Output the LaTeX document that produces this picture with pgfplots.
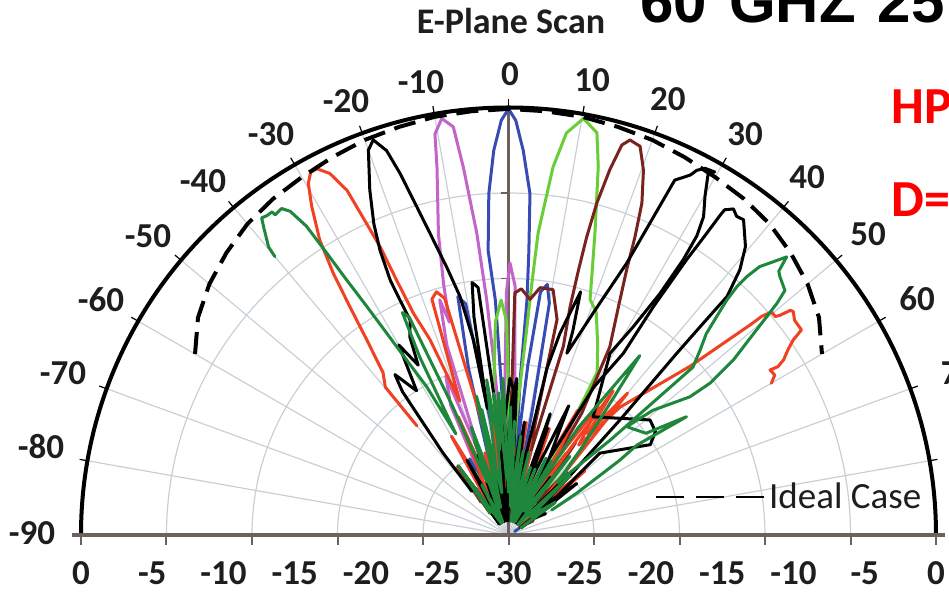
\documentclass[border=0pt]{standalone}
\usepackage{pgfplots}
\usepackage{pgfplotstable}
\pgfplotsset{compat=1.18}
\usepackage{fontspec}
\setmainfont{Carlito}
\newfontfamily\arialfont{Liberation Sans}
\definecolor{cgrid}{RGB}{200,208,214}
\definecolor{caxis}{RGB}{110,96,92}
\definecolor{cgreen}{RGB}{30,135,60}
\definecolor{cred}{RGB}{240,65,35}
\definecolor{cmag}{RGB}{195,100,200}
\definecolor{cblue}{RGB}{55,75,180}
\definecolor{clgreen}{RGB}{105,205,55}
\definecolor{cbrown}{RGB}{120,35,30}
\definecolor{ctext}{RGB}{30,30,30}
\tikzset{angl/.style={font=\bfseries\fontsize{17.5}{20}\selectfont, text=ctext, inner sep=0pt, anchor=center}}

\pgfplotstableread[row sep=\\]{
t d\\
-60 -4.6\\ -55 -3.4\\ -50 -2.6\\ -45 -2.0\\ -40 -1.5\\ -35 -1.2\\ -30 -1.0\\ -25 -0.75\\ -20 -0.5\\ -15 -0.35\\ -10 -0.2\\ -5 -0.15\\ 0 -0.1\\
5 -0.15\\ 10 -0.2\\ 15 -0.35\\ 20 -0.5\\ 25 -0.75\\ 30 -1.0\\ 35 -1.2\\ 40 -1.5\\ 45 -2.0\\ 50 -2.6\\ 55 -3.4\\ 60 -4.6\\
}\ideal

\pgfplotstableread[row sep=\\]{
t d\\
-40.0 -4.5\\ -39.8 -3.7\\ -38.5 -2.4\\ -37.9 -1.8\\ -37.1 -1.9\\ -36.2 -1.9\\ -36.1 -2.2\\ -34.8 -2.1\\ -34.0 -2.6\\ -33.2 -4.1\\
-32.8 -6.5\\ -32.4 -8.8\\ -31.8 -11.1\\ -31.1 -13.5\\ -30.2 -15.8\\ -28.9 -18.1\\ -27.5 -22\\ -26.5 -16\\ -25.5 -12.7\\ -24.5 -13.2\\
-23.5 -20\\ -22 -26\\ -19 -22\\ -16 -27\\ -13 -20\\ -10.5 -25\\ -8 -19\\ -6 -24\\ -4 -20\\ -2 -26\\ 1 -21\\ 4 -28\\ 7 -23\\ 10 -29\\
14 -24\\ 18 -29\\ 22 -25\\ 26 -29\\ 30 -24\\ 34 -28\\ 38 -23\\ 42 -29\\ 46 -24\\ 50 -28\\ 55 -26\\ 60 -29\\
}\greenL

\pgfplotstableread[row sep=\\]{
t d\\
-40 -20\\ -39.8 -16.5\\ -37.7 -15.6\\ -36.0 -13.1\\ -34.8 -10.5\\ -33.8 -7.9\\ -32.6 -5.4\\ -30.9 -3.1\\ -29.65 -1.6\\ -28.6 -1.0\\
-27.6 -1.0\\ -26.3 -1.7\\ -25.1 -3.3\\ -24.5 -6.0\\ -24.0 -7.9\\ -23.7 -10.5\\ -23.2 -13.1\\ -21.9 -15.2\\ -20 -20\\ -18 -12.6\\
-16.5 -12.2\\ -15.1 -12.8\\ -13.5 -21\\ -11 -26\\ -8 -21\\ -6 -27\\ -3 -22\\ 0 -28\\ 3 -23\\ 6 -28\\ 9 -22\\ 12 -28\\ 15 -24\\
19 -29\\ 23 -25\\ 27 -29\\ 31 -23\\ 34 -27\\ 36 -17.5\\ 38 -21\\ 40 -17\\ 42 -24\\ 46 -27\\ 50 -23\\ 55 -28\\ 60 -27\\
}\redL

\pgfplotstableread[row sep=\\]{
t d\\
-40 -26\\ -38.6 -22.6\\ -36.5 -17.5\\ -35.3 -16.2\\ -32.5 -18\\ -30 -14.6\\ -28 -16.5\\ -26.5 -14.5\\ -24.6 -13.4\\ -24.8 -11.8\\
-24.9 -10.3\\ -24.3 -8.1\\ -23.4 -6.2\\ -21.9 -3.9\\ -20.0 -1.25\\ -18.9 -0.7\\ -17.6 -1.7\\ -16.7 -3.5\\ -15.6 -6.1\\ -14.6 -8.1\\
-13.0 -10.7\\ -11.5 -12.9\\ -10.2 -16.1\\ -9.5 -21\\ -9.0 -14.5\\ -8.2 -12.1\\ -7.0 -12.5\\ -6.0 -20\\ -4.5 -26\\ -2 -22\\ 0.5 -19\\
2.5 -20\\ 4 -27\\ 6.5 -23\\ 9 -29\\ 12 -24\\ 16 -28\\ 20 -22\\ 24 -28\\ 28 -24\\ 32 -29\\ 36 -25\\ 40 -29\\ 45 -24\\ 50 -28\\ 55 -26\\ 60 -29\\
}\blackL

\pgfplotstableread[row sep=\\]{
t d\\
-40 -28\\ -36 -25\\ -33 -28\\ -30 -22\\ -27 -27\\ -24 -20\\ -21.5 -18\\ -19.5 -24\\ -18 -16\\ -16.3 -12.8\\ -15.5 -14.5\\ -14.5 -11.8\\
-13.1 -8.3\\ -11.0 -3.7\\ -10.4 -1.4\\ -9.1 -0.4\\ -7.7 -1.1\\ -7.0 -4.0\\ -6.0 -8.7\\ -5.3 -13.4\\ -4.8 -18\\ -4.2 -24\\ -3 -27\\
-1.5 -20\\ -0.5 -13\\ 0.3 -10.9\\ 1.5 -12.5\\ 2.5 -20\\ 3.5 -27\\ 6 -22\\ 9 -28\\ 12 -24\\ 15 -29\\ 19 -25\\ 23 -29\\ 27 -26\\ 31 -29\\
35 -25\\ 40 -29\\ 45 -26\\ 50 -29\\ 55 -27\\ 60 -29\\
}\magenta

\pgfplotstableread[row sep=\\]{
t d\\
-40 -29\\ -35 -26\\ -31 -29\\ -27 -24\\ -23 -28\\ -19 -23\\ -16 -27\\ -13.5 -18\\ -12 -12.9\\ -10.5 -13.5\\ -9 -22\\ -7 -27\\ -4.5 -25\\
-2.5 -21\\ -3.2 -13.5\\ -4.1 -10\\ -3.3 -6\\ -2.2 -3\\ -1 -0.9\\ 0 -0.1\\ 1 -0.9\\ 2.2 -3\\ 3.6 -6\\ 4.1 -10\\ 4.5 -13.5\\ 4.3 -19\\
5.5 -25\\ 6.5 -18\\ 7.5 -12.8\\ 8.8 -12.2\\ 10 -13.5\\ 10.8 -21\\ 12 -27\\ 15 -24\\ 18 -29\\ 22 -25\\ 26 -29\\ 30 -26\\ 34 -29\\
38 -25\\ 42 -29\\ 46 -26\\ 50 -29\\ 55 -27\\ 60 -29.5\\
}\blue

\pgfplotstableread[row sep=\\]{
t d\\
-40 -29\\ -36 -26\\ -32 -29\\ -28 -25\\ -24 -29\\ -20 -24\\ -16 -28\\ -12 -22\\ -9 -28\\ -6 -20\\ -3.5 -15\\ -1.8 -13.5\\ -0.5 -15\\
1 -24\\ 2.5 -27\\ 4 -21\\ 5.0 -16\\ 5.3 -12.3\\ 5.6 -8.7\\ 6.9 -4.0\\ 8.2 -1.5\\ 10.2 -0.3\\ 12.4 -1.1\\ 13.7 -3.4\\ 16.0 -8.0\\
19.1 -12.5\\ 21.5 -13.2\\ 25 -15.2\\ 28.6 -17.0\\ 30 -22\\ 32 -27\\ 35 -23\\ 38 -28\\ 42 -24\\ 46 -29\\ 50 -25\\ 55 -29\\ 60 -28\\
}\lgreen

\pgfplotstableread[row sep=\\]{
t d\\
-40 -27\\ -37 -25\\ -34 -28\\ -30 -24.5\\ -27 -29\\ -23 -26\\ -19 -29\\ -15 -25\\ -11 -29\\ -7 -24\\ -4 -28\\ -1 -23\\ 0.5 -26\\
1.5 -13\\ 3 -12.7\\ 5.2 -13.4\\ 7.3 -12.5\\ 10.3 -12.5\\ 12.7 -14.5\\ 13.5 -22\\ 14.5 -25\\ 16.2 -16.2\\ 15.1 -13.4\\ 14.8 -10.8\\
14.7 -8.4\\ 14.9 -5.9\\ 15.5 -3.4\\ 16.2 -1.5\\ 17.1 -1.0\\ 18.7 -1.2\\ 20.3 -2.7\\ 21.9 -4.9\\ 23.0 -7.3\\ 24.0 -9.6\\ 25.7 -12.2\\
28.3 -15.0\\ 31 -20\\ 33 -26\\ 36 -22\\ 40 -27\\ 43 -24\\ 47 -28\\ 51 -25\\ 55 -29\\ 60 -28\\
}\brown

\pgfplotstableread[row sep=\\]{
t d\\
-40 -28\\ -36 -24\\ -33 -29\\ -29 -25\\ -25 -29\\ -21 -24\\ -17 -28\\ -13 -23\\ -10 -28\\ -6 -24\\ -2 -29\\ 1 -21\\ 3 -19\\ 5 -27\\
8 -22\\ 11 -27\\ 13 -18\\ 14.3 -15.4\\ 16.5 -12.2\\ 17.5 -15\\ 17.8 -16.6\\ 20.9 -13.3\\ 23.5 -9.2\\ 24.5 -5.5\\ 25.1 -2.5\\
26.8 -1.7\\ 27.3 -1.2\\ 28.2 -0.8\\ 29.6 -0.7\\ 28.9 -1.0\\ 30.1 -2.5\\ 31.5 -3.8\\ 32.2 -5.2\\ 32.4 -7.1\\ 32.1 -10.0\\ 30.9 -13.0\\
29.2 -15.4\\ 35.6 -19.8\\ 50.9 -17.2\\ 54.9 -17.4\\ 57.5 -18.2\\ 48.1 -21.4\\ 52 -26\\ 56 -28\\ 60 -27\\
}\blackRa

\pgfplotstableread[row sep=\\]{
t d\\
-40 -29\\ -37 -26\\ -33 -29\\ -29 -24\\ -26 -28\\ -22 -26\\ -18 -29\\ -14 -25\\ -11 -29\\ -8 -26\\ -4 -29\\ -1 -24\\ 2 -20\\ 4 -27\\
7 -23\\ 10 -28\\ 13 -24\\ 16 -28\\ 19 -21\\ 22 -26\\ 25 -20\\ 28 -24\\ 30 -18\\ 32.3 -14.9\\ 32.4 -11.0\\ 32.9 -7.0\\ 33.3 -4.7\\
33.5 -3.1\\ 33.6 -2.6\\ 34.6 -2.2\\ 35.6 -2.5\\ 36.7 -2.4\\ 39.4 -3.8\\ 41.1 -5.3\\ 42.5 -7.3\\ 42.6 -9.8\\ 42.8 -12.6\\ 44.1 -18.8\\
46 -24\\ 49 -27\\ 53 -24\\ 56 -28\\ 60 -29\\
}\blackRb

\pgfplotstableread[row sep=\\]{
t d\\
-40 -28\\ -36 -24\\ -32 -29\\ -28 -26\\ -24 -29\\ -20 -23\\ -16 -28\\ -12 -21\\ -9 -27\\ -6 -20\\ -4 -23\\ -2 -19\\ 0 -27\\ 3 -22\\
6 -28\\ 10 -24\\ 14 -29\\ 18 -25\\ 22 -29\\ 26 -24\\ 30 -28\\ 33 -21\\ 36.2 -14.4\\ 37.5 -18\\ 40 -22\\ 43 -25\\ 47.0 -20.2\\
47.7 -12.5\\ 46.0 -11.3\\ 44.5 -10.2\\ 43.6 -8.8\\ 42.9 -7.5\\ 42.6 -6.3\\ 42.7 -5.3\\ 43.1 -4.2\\ 44.1 -3.3\\ 45.0 -2.4\\ 45.7 -3.5\\
46.4 -3.7\\ 48.5 -4.1\\ 49.2 -5.1\\ 50.4 -7.4\\ 52.1 -10.0\\ 53.0 -12.3\\ 52.7 -14.0\\ 49.2 -16.6\\ 47.5 -18.75\\ 53.5 -18.0\\
56.4 -15.0\\ 55.0 -19.0\\ 56.1 -20.6\\ 58.5 -24.4\\ 60 -26.5\\
}\greenR

\pgfplotstableread[row sep=\\]{
t d\\
-40 -28\\ -37 -24\\ -34 -28\\ -30 -22\\ -27 -27\\ -23 -21\\ -20 -27\\ -16 -24\\ -12 -28\\ -8 -23\\ -5 -28\\ -2 -25\\ 1 -29\\ 5 -24\\
9 -28\\ 13 -23\\ 17 -28\\ 21 -22\\ 25 -27\\ 29 -20\\ 32 -24\\ 35 -19\\ 38 -22\\ 41.1 -18.1\\ 47.1 -12.6\\ 49.0 -7.5\\ 49.2 -6.5\\
49.7 -5.8\\ 50.7 -5.8\\ 51.0 -5.5\\ 51.45 -4.7\\ 51.9 -4.6\\ 53.1 -4.9\\ 55.0 -4.9\\ 55.6 -5.8\\ 56.5 -6.5\\ 57.5 -7.1\\ 58.0 -7.7\\
57.75 -8.3\\ 59.0 -8.2\\ 60.0 -8.7\\
}\redR

\pgfplotsset{beam/.style={data cs=polar, line width=1.5pt, line join=round, line cap=round, mark=none, forget plot}}

\begin{document}
\begin{tikzpicture}
\begin{axis}[
  x=7.125pt, y=7.125pt,
  xmin=-30, xmax=30, ymin=0, ymax=30,
  clip=false,
  hide y axis,
  axis x line*=bottom,
  x axis line style={draw=none},
  xtick={-30,-25,...,30},
  xticklabels={0,-5,-10,-15,-20,-25,-30,-25,-20,-15,-10,-5,0},
  major tick length=0pt,
  xticklabel style={anchor=center, yshift=-19pt, inner sep=0pt, font=\bfseries\fontsize{17.5}{20}\selectfont, text=ctext},
  legend style={at={(axis description cs:0.671,0.089)}, anchor=west, draw=none, fill=none, inner sep=0pt, font=\fontsize{18.5}{21}\selectfont, text=ctext},
  legend image code/.code={\draw[black, line width=1pt, dash pattern=on 14pt off 6pt] (0pt,0pt) -- (54pt,0pt);},
]
% grid rings and radial lines
\pgfplotsinvokeforeach{6,12,18,24}{
  \draw[cgrid, line width=0.6pt] (axis cs:#1,0) arc[start angle=0, end angle=180, radius=#1*7.125pt];
}
\pgfplotsinvokeforeach{10,20,30,40,50,60,70,80,100,110,120,130,140,150,160,170}{
  \draw[cgrid, line width=0.6pt] (axis cs:0,0) -- ++(#1:213.75pt);
}
% radial axis at 0 deg
\draw[caxis, line width=1.5pt] (axis cs:0,0) -- (axis cs:0,30);
\pgfplotsinvokeforeach{6,12,18,24}{
  \draw[caxis, line width=0.8pt] (axis cs:0,#1) -- ++(-4pt,0pt);
}
% beams
\addplot[beam, cmag] table[x expr=90-\thisrow{t}, y expr=\thisrow{d}+30] {\magenta};
\addplot[beam, cblue] table[x expr=90-\thisrow{t}, y expr=\thisrow{d}+30] {\blue};
\addplot[beam, clgreen] table[x expr=90-\thisrow{t}, y expr=\thisrow{d}+30] {\lgreen};
\addplot[beam, cbrown] table[x expr=90-\thisrow{t}, y expr=\thisrow{d}+30] {\brown};
\addplot[beam, cred] table[x expr=90-\thisrow{t}, y expr=\thisrow{d}+30] {\redL};
\addplot[beam, cred] table[x expr=90-\thisrow{t}, y expr=\thisrow{d}+30] {\redR};
\addplot[beam, black] table[x expr=90-\thisrow{t}, y expr=\thisrow{d}+30] {\blackL};
\addplot[beam, black] table[x expr=90-\thisrow{t}, y expr=\thisrow{d}+30] {\blackRa};
\addplot[beam, black] table[x expr=90-\thisrow{t}, y expr=\thisrow{d}+30] {\blackRb};
\addplot[beam, cgreen] table[x expr=90-\thisrow{t}, y expr=\thisrow{d}+30] {\greenL};
\addplot[beam, cgreen] table[x expr=90-\thisrow{t}, y expr=\thisrow{d}+30] {\greenR};
% ideal case
\addplot[data cs=polar, black, line width=2pt, dash pattern=on 11pt off 5pt, mark=none] table[x expr=90-\thisrow{t}, y expr=\thisrow{d}+30] {\ideal};
\addlegendentry{Ideal Case}
% outer circle, ticks, bottom axis
\draw[black, line width=2pt] (axis cs:30,0) arc[start angle=0, end angle=180, radius=213.75pt];
\pgfplotsinvokeforeach{0,10,20,30,40,50,60,70,80,90,100,110,120,130,140,150,160,170,180}{
  \draw[black, line width=0.6pt] (axis cs:0,0) ++(#1:213.75pt) -- ++(#1:4pt);
}
\draw[caxis, line width=2.2pt] (axis cs:-30.6,0) -- (axis cs:30.6,0);
\pgfplotsinvokeforeach{-30,-24,-18,-12,-6,0,6,12,18,24,30}{
  \draw[caxis, line width=1pt] (axis cs:#1,0) -- ++(0pt,-5pt);
}
% angle labels
\node[angl] at (axis cs:-33.44,0.14) {-90};
\node[angl] at (axis cs:-32.81,6.18) {-80};
\node[angl] at (axis cs:-31.26,11.37) {-70};
\node[angl] at (axis cs:-28.60,16.49) {-60};
\node[angl] at (axis cs:-25.30,20.98) {-50};
\node[angl] at (axis cs:-21.44,24.84) {-40};
\node[angl] at (axis cs:-16.67,28.14) {-30};
\node[angl] at (axis cs:-11.40,30.46) {-20};
\node[angl] at (axis cs:-6.14,31.79) {-10};
\node[angl] at (axis cs:0.11,32.35) {0};
\node[angl] at (axis cs:5.86,31.93) {10};
\node[angl] at (axis cs:11.19,30.60) {20};
\node[angl] at (axis cs:16.60,28.14) {30};
\node[angl] at (axis cs:20.95,25.12) {40};
\node[angl] at (axis cs:25.23,21.12) {50};
\node[angl] at (axis cs:28.67,16.56) {60};
\node[angl] at (axis cs:31.58,11.37) {70};
% titles and other texts
\node[anchor=base, inner sep=0pt, text=ctext, font=\bfseries\fontsize{18}{20}\selectfont] at (axis cs:0.18,35.16) {E-Plane Scan};
\node[anchor=base west, inner sep=0pt, font=\arialfont\bfseries\fontsize{30}{32}\selectfont] at (axis cs:9.23,35.93) {{\spaceskip=11pt 60 GHZ 25}};
\node[anchor=base west, inner sep=0pt, text=red, font=\bfseries\fontsize{26}{28}\selectfont] at (axis cs:26.84,28.91) {HP};
\node[anchor=base west, inner sep=0pt, text=red, font=\bfseries\fontsize{26}{28}\selectfont] at (axis cs:26.84,22.32) {D=};
\coordinate (BL) at (axis cs:-35.684,-4.0);
\coordinate (TR) at (axis cs:30.912,37.544);
\end{axis}
\pgfresetboundingbox
\path[use as bounding box] (BL) rectangle (TR);
\end{tikzpicture}
\end{document}
